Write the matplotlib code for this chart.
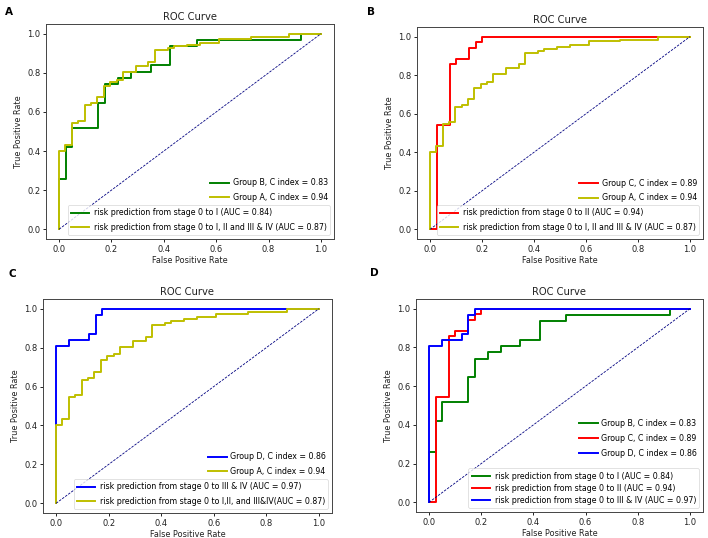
import numpy as np
import matplotlib
matplotlib.use("Agg")
import matplotlib.pyplot as plt

# ROC curves (fpr / tpr corner points)
fpr_a = [0, 0, 0.024, 0.024, 0.049, 0.049, 0.073, 0.073, 0.098, 0.098, 0.122, 0.122,
         0.146, 0.146, 0.171, 0.171, 0.195, 0.195, 0.22, 0.22, 0.244, 0.244, 0.293, 0.293,
         0.341, 0.341, 0.366, 0.366, 0.415, 0.415, 0.439, 0.439, 0.488, 0.488, 0.537, 0.537,
         0.61, 0.61, 0.732, 0.732, 0.878, 0.878, 1.0]
tpr_a = [0, 0.40, 0.40, 0.433, 0.433, 0.545, 0.545, 0.555, 0.555, 0.635, 0.635, 0.645,
         0.645, 0.675, 0.675, 0.735, 0.735, 0.755, 0.755, 0.765, 0.765, 0.805, 0.805, 0.835,
         0.835, 0.857, 0.857, 0.915, 0.915, 0.925, 0.925, 0.935, 0.935, 0.945, 0.945, 0.955,
         0.955, 0.975, 0.975, 0.985, 0.985, 1.0, 1.0]

fpr_b = [0, 0, 0.025, 0.025, 0.05, 0.05, 0.15, 0.15, 0.175, 0.175, 0.225, 0.225,
         0.275, 0.275, 0.35, 0.35, 0.425, 0.425, 0.525, 0.525, 0.925, 0.925, 1.0]
tpr_b = [0, 0.258, 0.258, 0.419, 0.419, 0.516, 0.516, 0.645, 0.645, 0.742, 0.742, 0.774,
         0.774, 0.806, 0.806, 0.839, 0.839, 0.935, 0.935, 0.968, 0.968, 1.0, 1.0]

fpr_c = [0, 0.025, 0.025, 0.075, 0.075, 0.1, 0.1, 0.15, 0.15, 0.175, 0.175, 0.2, 0.2, 1.0]
tpr_c = [0, 0, 0.543, 0.543, 0.857, 0.857, 0.886, 0.886, 0.943, 0.943, 0.971, 0.971, 1.0, 1.0]

fpr_d = [0, 0, 0.05, 0.05, 0.125, 0.125, 0.15, 0.15, 0.175, 0.175, 1.0]
tpr_d = [0, 0.806, 0.806, 0.839, 0.839, 0.871, 0.871, 0.968, 0.968, 1.0, 1.0]

curves = {
    "A": (fpr_a, tpr_a, "y"),
    "B": (fpr_b, tpr_b, "g"),
    "C": (fpr_c, tpr_c, "r"),
    "D": (fpr_d, tpr_d, "b"),
}

group_labels = {
    "A": "Group A, C index = 0.94",
    "B": "Group B, C index = 0.83",
    "C": "Group C, C index = 0.89",
    "D": "Group D, C index = 0.86",
}

# panel -> (curves drawn, auc legend labels, group legend anchor, spacings)
panels = [
    ("A", ["B", "A"], ["risk prediction from stage 0 to I (AUC = 0.84)",
                       "risk prediction from stage 0 to I, II and III & IV (AUC = 0.87)"],
     0.158, 0.7, 0.7),
    ("B", ["C", "A"], ["risk prediction from stage 0 to II (AUC = 0.94)",
                       "risk prediction from stage 0 to I, II and III & IV (AUC = 0.87)"],
     0.158, 0.7, 0.7),
    ("C", ["D", "A"], ["risk prediction from stage 0 to III & IV (AUC = 0.97)",
                       "risk prediction from stage 0 to I,II, and III&IV(AUC = 0.87)"],
     0.158, 0.7, 0.7),
    ("D", ["B", "C", "D"], ["risk prediction from stage 0 to I (AUC = 0.84)",
                            "risk prediction from stage 0 to II (AUC = 0.94)",
                            "risk prediction from stage 0 to III & IV (AUC = 0.97)"],
     0.24, 0.4, 0.75),
]

W, H = 708, 538
boxes = {  # left, top, right, bottom in pixels
    "A": (46, 24, 334, 239),
    "B": (417, 27, 703, 239),
    "C": (43, 299, 332, 513),
    "D": (416, 299, 703, 512),
}
letter_pos = {"A": (9, 12), "B": (371, 12), "C": (12, 274), "D": (374, 273)}

fig = plt.figure(figsize=(W / 100, H / 100), dpi=100)

for name, keys, auc_labels, anchor, sp1, sp2 in panels:
    l, t, r, b = boxes[name]
    ax = fig.add_axes([l / W, 1 - b / H, (r - l) / W, (b - t) / H])
    lines = []
    for k in keys:
        fpr, tpr, col = curves[k]
        ln, = ax.plot(fpr, tpr, color=col, lw=1.4)
        lines.append(ln)
    ax.plot([0, 1], [0, 1], color="navy", lw=0.6, linestyle=(0, (3, 1.5)))
    ax.set_xlim(-0.05, 1.05)
    ax.set_ylim(-0.05, 1.05)
    ax.set_title("ROC Curve", fontsize=7.2, pad=3, color="#222222")
    ax.set_xlabel("False Positive Rate", fontsize=5.9, labelpad=2, color="#222222")
    ax.set_ylabel("True Positive Rate", fontsize=5.9, labelpad=3, color="#222222")
    ax.tick_params(labelsize=6.0, length=2, width=0.6, pad=2, labelcolor="#222222")
    for s in ax.spines.values():
        s.set_linewidth(0.7)
        s.set_color("#444444")

    leg1 = ax.legend(lines, auc_labels, loc="lower right", fontsize=5.7,
                     handlelength=2.3, handletextpad=0.6, labelspacing=sp1,
                     framealpha=0.8, borderpad=0.4)
    leg1.get_frame().set_linewidth(0.5)
    ax.add_artist(leg1)
    ax.legend(lines, [group_labels[k] for k in keys], loc="lower right",
              bbox_to_anchor=(0.99, anchor), frameon=False, fontsize=5.7,
              handlelength=2.4, handletextpad=0.45, labelspacing=sp2,
              borderaxespad=0)

    lx, ly = letter_pos[name]
    fig.text(lx / W, 1 - ly / H, name, fontsize=7.5, fontweight="bold",
             ha="center", va="center")

fig.savefig("out.png", dpi=100)
